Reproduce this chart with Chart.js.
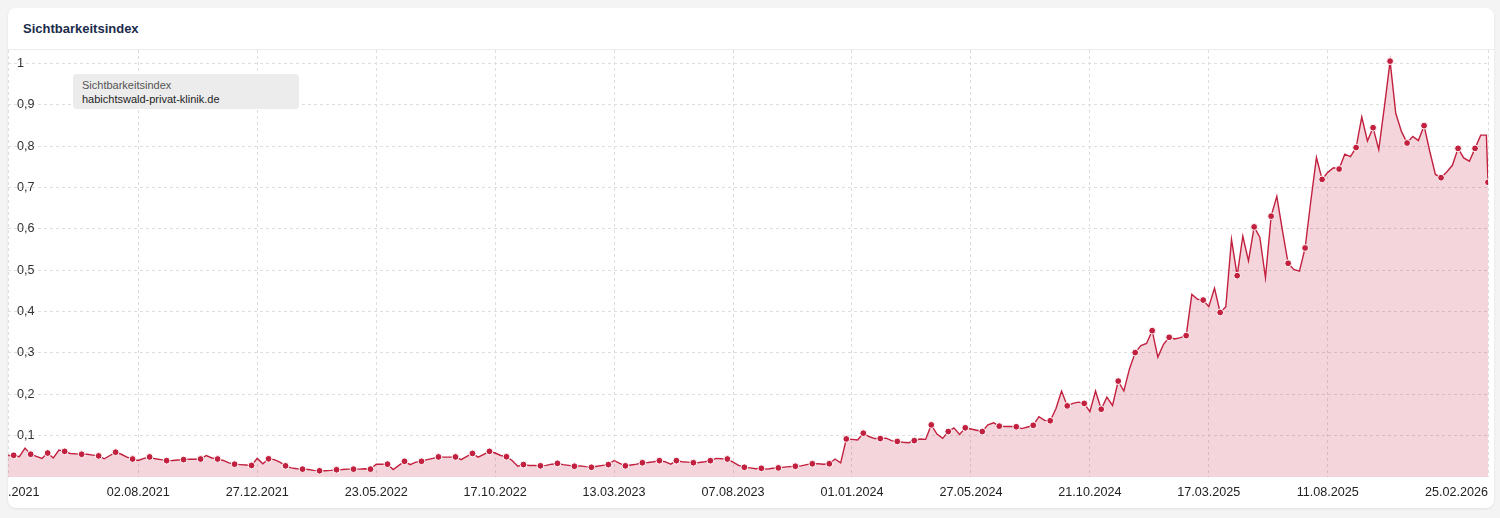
<!DOCTYPE html>
<html lang="de">
<head>
<meta charset="utf-8">
<title>Sichtbarkeitsindex</title>
<script src="https://cdn.jsdelivr.net/npm/chart.js@4.4.1/dist/chart.umd.min.js"></script>
<style>
  html, body { margin: 0; padding: 0; background: #f4f4f4; }
  body { width: 1500px; height: 518px; position: relative; overflow: hidden; font-family: "Liberation Sans", Arial, Helvetica, sans-serif; }
  .card { position: absolute; left: 8px; top: 8px; width: 1486px; height: 500px; background: #fff; border-radius: 8px; box-shadow: 0 1px 3px rgba(0,0,0,0.08); overflow: hidden; }
  .title { position: absolute; left: 15px; top: 13px; font-size: 13px; font-weight: bold; color: #1b2b4b; }
  .sep { position: absolute; left: 0; right: 0; top: 41px; height: 1px; background: #ececec; }
  .chartwrap { position: absolute; left: 0; top: 42px; width: 1486px; height: 458px; }
  .chartwrap canvas { display: block; }
  .legendbox { position: absolute; left: 65px; top: 66px; width: 226px; height: 35px; background: #ececec; border-radius: 4px; box-sizing: border-box; padding: 5px 9px; font-size: 11px; line-height: 13.5px; }
  .legendbox .l1 { color: #555; }
  .legendbox .l2 { color: #1e1e1e; }
</style>
</head>
<body>
<div class="card">
  <div class="title">Sichtbarkeitsindex</div>
  <div class="sep"></div>
  <div class="chartwrap"><canvas id="c" width="1486" height="458"></canvas></div>
  <div class="legendbox"><div class="l1">Sichtbarkeitsindex</div><div class="l2">habichtswald-privat-klinik.de</div></div>
</div>
<script>
// ---- data ----
const seriesName = 'Sichtbarkeitsindex';
const domainName = 'habichtswald-privat-klinik.de';
const startDate = '22.02.2021';          // first weekly value (Monday)
const weeklyValues = [
  0.052, 0.0525, 0.049, 0.070, 0.055, 0.050, 0.045, 0.058, 0.046, 0.065,
  0.062, 0.057, 0.056, 0.055, 0.055, 0.053, 0.051, 0.044, 0.052, 0.060,
  0.055, 0.048, 0.0435, 0.040, 0.045, 0.0485, 0.044, 0.042, 0.0395, 0.040,
  0.041, 0.042, 0.043, 0.043, 0.0435, 0.052, 0.046, 0.0435, 0.040, 0.034,
  0.031, 0.030, 0.029, 0.028, 0.045, 0.032, 0.044, 0.042, 0.036, 0.027,
  0.022, 0.020, 0.019, 0.018, 0.016, 0.015, 0.015, 0.016, 0.0175, 0.018,
  0.019, 0.019, 0.019, 0.020, 0.019, 0.031, 0.031, 0.031, 0.018, 0.028,
  0.038, 0.030, 0.036, 0.038, 0.042, 0.045, 0.0485, 0.048, 0.048, 0.0485,
  0.042, 0.050, 0.057, 0.048, 0.055, 0.062, 0.058, 0.052, 0.049, 0.040,
  0.026, 0.030, 0.028, 0.028, 0.027, 0.028, 0.031, 0.033, 0.030, 0.028,
  0.026, 0.027, 0.025, 0.0235, 0.026, 0.028, 0.030, 0.040, 0.033, 0.027,
  0.029, 0.031, 0.0345, 0.035, 0.037, 0.0395, 0.037, 0.031, 0.0395, 0.037,
  0.036, 0.0345, 0.035, 0.037, 0.0395, 0.045, 0.044, 0.0435, 0.036, 0.028,
  0.0235, 0.022, 0.020, 0.021, 0.019, 0.021, 0.022, 0.024, 0.025, 0.026,
  0.027, 0.030, 0.032, 0.032, 0.031, 0.032, 0.0435, 0.034, 0.092, 0.091,
  0.0895, 0.106, 0.098, 0.093, 0.093, 0.094, 0.088, 0.086, 0.084, 0.083,
  0.088, 0.092, 0.091, 0.126, 0.104, 0.0935, 0.110, 0.119, 0.103, 0.119,
  0.116, 0.113, 0.110, 0.126, 0.131, 0.123, 0.122, 0.122, 0.1215, 0.117,
  0.121, 0.125, 0.146, 0.137, 0.136, 0.165, 0.208, 0.172, 0.178, 0.181,
  0.178, 0.158, 0.208, 0.164, 0.193, 0.173, 0.232, 0.208, 0.262, 0.301,
  0.318, 0.323, 0.354, 0.290, 0.321, 0.338, 0.334, 0.337, 0.342, 0.442,
  0.430, 0.428, 0.412, 0.457, 0.398, 0.412, 0.575, 0.487, 0.583, 0.523,
  0.605, 0.580, 0.482, 0.631, 0.679, 0.596, 0.517, 0.502, 0.498, 0.554,
  0.667, 0.773, 0.720, 0.737, 0.748, 0.745, 0.781, 0.775, 0.797, 0.871,
  0.813, 0.845, 0.792, 0.896, 1.006, 0.880, 0.836, 0.808, 0.824, 0.814,
  0.850, 0.788, 0.732, 0.724, 0.738, 0.754, 0.795, 0.772, 0.764, 0.795,
  0.827, 0.827
];
const finalDate = '25.02.2026';
const finalValue = 0.713;
const xTickLabels = ['22.02.2021', '02.08.2021', '27.12.2021', '23.05.2022', '17.10.2022',
  '13.03.2023', '07.08.2023', '01.01.2024', '27.05.2024', '21.10.2024', '17.03.2025',
  '11.08.2025', '25.02.2026'];
const yTickValues = [0.1, 0.2, 0.3, 0.4, 0.5, 0.6, 0.7, 0.8, 0.9, 1];
const yMax = 1.033;

// ---- helpers ----
function parseDE(s) { const [d, m, y] = s.split('.').map(Number); return Date.UTC(y, m - 1, d); }
const t0 = parseDE(startDate);
function dayOffset(s) { return Math.round((parseDE(s) - t0) / 86400000); }

const points = weeklyValues.map((v, i) => ({ x: i * 7, y: v }));
points.push({ x: dayOffset(finalDate), y: finalValue });
const lastIdx = points.length - 1;
const xTickDays = xTickLabels.map(dayOffset);

const lineColor = '#c2203f';
const fontFam = '"Liberation Sans", Arial, Helvetica, sans-serif';

const lastLabelPlugin = {
  id: 'lastLabel',
  afterDraw(chart) {
    const xs = chart.scales.x, ctx = chart.ctx;
    const lbl = xTickLabels[xTickLabels.length - 1];
    const px = xs.getPixelForValue(xTickDays[xTickDays.length - 1]);
    ctx.save();
    ctx.font = '12.6px ' + fontFam;
    ctx.fillStyle = '#222';
    ctx.textAlign = 'right';
    ctx.textBaseline = 'middle';
    ctx.fillText(lbl, px, chart.chartArea.bottom + 8 + 7.8);
    ctx.restore();
  }
};

new Chart(document.getElementById('c'), {
  type: 'line',
  data: {
    datasets: [{
      label: seriesName + ' ' + domainName,
      data: points,
      borderColor: lineColor,
      borderWidth: 1.4,
      backgroundColor: 'rgba(194,32,63,0.19)',
      fill: 'origin',
      tension: 0,
      pointRadius: (c) => (c.dataIndex % 3 === 1 || c.dataIndex === lastIdx) ? 3.4 : 0,
      pointBackgroundColor: lineColor,
      pointBorderColor: '#ffffff',
      pointBorderWidth: 1,
      pointHoverRadius: 0
    }]
  },
  options: {
    responsive: false,
    animation: false,
    events: [],
    layout: { autoPadding: false, padding: { left: 0, right: 6, top: 0, bottom: 7 } },
    plugins: { legend: { display: false }, tooltip: { enabled: false } },
    scales: {
      x: {
        type: 'linear',
        min: 0,
        max: dayOffset(finalDate),
        afterBuildTicks: (s) => { s.ticks = xTickDays.map(v => ({ value: v })); },
        afterFit: (s) => { s.height = 24; s.paddingLeft = 0; s.paddingRight = 0; s.paddingTop = 0; s.paddingBottom = 0; },
        ticks: {
          autoSkip: false,
          maxRotation: 0,
          padding: 8,
          color: '#222',
          font: { size: 12.6, family: fontFam },
          callback: (v, i) => i === xTickLabels.length - 1 ? '' : xTickLabels[i]
        },
        grid: { color: '#dedede', lineWidth: 1, drawTicks: false },
        border: { display: false, dash: [3, 3] }
      },
      y: {
        min: 0,
        max: yMax,
        afterBuildTicks: (s) => { s.ticks = yTickValues.map(v => ({ value: v })); },
        afterFit: (s) => { s.width = 0; s.paddingLeft = 0; s.paddingRight = 0; s.paddingTop = 0; s.paddingBottom = 0; },
        ticks: {
          mirror: true,
          padding: 9,
          color: '#333',
          font: { size: 12.6, family: fontFam },
          callback: (v) => String(Math.round(v * 10) / 10).replace('.', ',')
        },
        grid: { color: '#dedede', lineWidth: 1, drawTicks: false },
        border: { display: false, dash: [3, 3] }
      }
    }
  },
  plugins: [lastLabelPlugin]
});
</script>
</body>
</html>
